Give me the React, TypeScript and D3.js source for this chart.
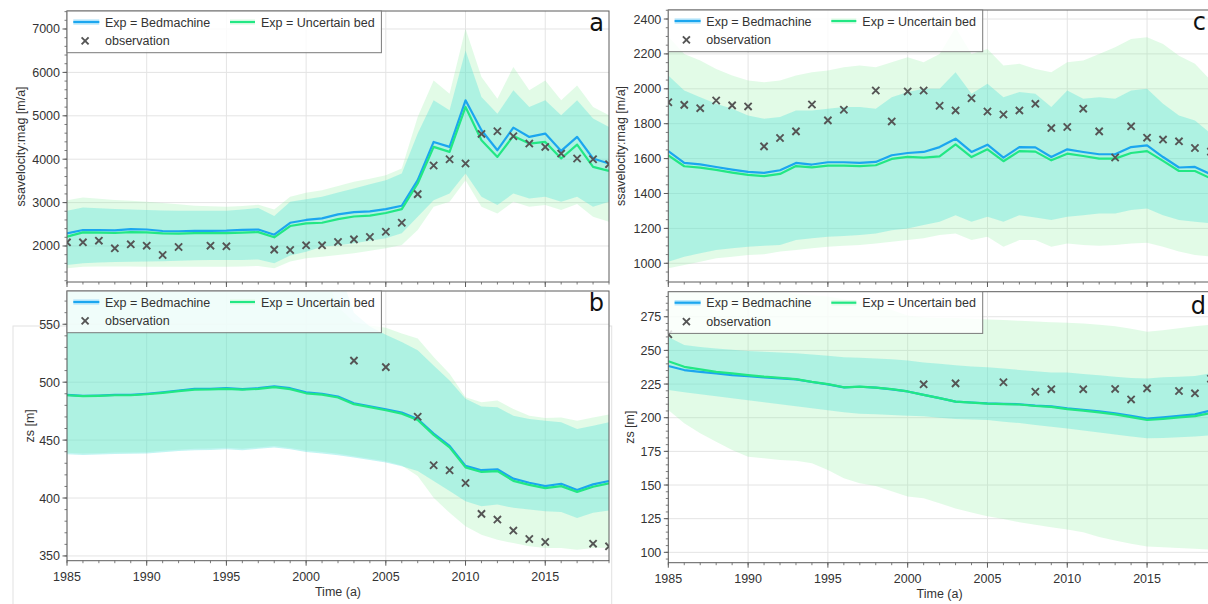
import React from 'react';
import * as d3 from 'd3';

const YEARS = [1985, 1986, 1987, 1988, 1989, 1990, 1991, 1992, 1993, 1994, 1995, 1996, 1997, 1998, 1999, 2000, 2001, 2002, 2003, 2004, 2005, 2006, 2007, 2008, 2009, 2010, 2011, 2012, 2013, 2014, 2015, 2016, 2017, 2018, 2019];
const X_TICKS = [1985, 1990, 1995, 2000, 2005, 2010, 2015];

// ---- panel a : ssavelocity (glacier 1)
const A_BLUE = [2292, 2368, 2368, 2360, 2390, 2380, 2345, 2340, 2350, 2350, 2355, 2370, 2380, 2260, 2535, 2600, 2636, 2729, 2782, 2797, 2850, 2927, 3517, 4398, 4283, 5356, 4667, 4207, 4728, 4513, 4590, 4191, 4513, 4016, 3900];
const A_GREEN = [2214, 2315, 2310, 2300, 2320, 2315, 2290, 2285, 2295, 2295, 2295, 2310, 2320, 2200, 2460, 2520, 2536, 2620, 2680, 2700, 2760, 2850, 3441, 4283, 4168, 5203, 4437, 4053, 4536, 4360, 4398, 4016, 4337, 3823, 3731];
const A_OBS = [2085, 2085, 2123, 1946, 2038, 2008, 1793, 1977, null, 2008, 1992, null, null, 1916, 1908, 2015, 2015, 2092, 2153, 2207, 2329, 2536, 3195, 3855, 4000, 3900, 4582, 4644, 4529, 4360, 4283, 4130, 4016, 4000, 3885];
const A_BLUE_HI = [2811, 2889, 2870, 2850, 2840, 2828, 2820, 2815, 2811, 2811, 2811, 2840, 2873, 2690, 3018, 3080, 3133, 3230, 3326, 3420, 3517, 3670, 4590, 5356, 5126, 6506, 5433, 5050, 5586, 5203, 5356, 5011, 5356, 4935, 4743];
const A_BLUE_LO = [1563, 1600, 1620, 1630, 1635, 1640, 1650, 1660, 1670, 1675, 1678, 1680, 1690, 1602, 1780, 1870, 1985, 2020, 2061, 2120, 2176, 2291, 2674, 3057, 3211, 3670, 3133, 2943, 3211, 3095, 3133, 3018, 3133, 2904, 3018];
const A_GREEN_HI = [3057, 3118, 3090, 3060, 3040, 3018, 2990, 2960, 2930, 2915, 2904, 2920, 2950, 2843, 3133, 3226, 3287, 3380, 3479, 3550, 3632, 3785, 4973, 5816, 5510, 7004, 5893, 5395, 6122, 5586, 5816, 5356, 5701, 5203, 5011];
const A_GREEN_LO = [1487, 1520, 1525, 1525, 1525, 1524, 1524, 1524, 1524, 1524, 1524, 1530, 1540, 1487, 1640, 1716, 1755, 1790, 1832, 1890, 1946, 2023, 2368, 2904, 3018, 3517, 2904, 2751, 3018, 2904, 2943, 2828, 2966, 2674, 2559];
const A_YTICKS = [2000, 3000, 4000, 5000, 6000, 7000];

// ---- panel b : zs (glacier 1)
const B_BLUE = [489, 488.2, 488.5, 489, 489, 490, 491.3, 492.8, 494.2, 494.2, 494.8, 494, 494.8, 496.5, 494.8, 491.3, 490, 487.6, 481.8, 479.2, 476.6, 473.7, 468.2, 455.7, 445, 427.7, 424, 424.8, 416.7, 413.2, 410.3, 412.3, 406.9, 411.8, 414.7];
const B_GREEN = [488.7, 487.9, 488.2, 488.7, 488.7, 489.6, 490.8, 492.3, 493.6, 493.7, 494.2, 493.5, 494.2, 495.8, 494, 490.4, 489.2, 486.8, 481, 478.4, 475.8, 472.8, 467.4, 454.5, 443.8, 426.5, 422.5, 423.2, 414.8, 411.3, 408.6, 410.3, 405.3, 409.7, 412.7];
const B_OBS = [null, null, null, null, null, null, null, null, null, null, null, null, null, null, null, null, null, null, 518.6, null, 513, null, 470.2, 428.3, 424, 413, 386.3, 381.4, 371.9, 364.6, 362, null, null, 360.6, 358.3];
const B_BLUE_HI = [600, 600, 600, 600, 600, 600, 600, 600, 600, 600, 600, 600, 600, 600, 600, 600, 600, 600, 560, 548, 541, 534.7, 527.5, 514.5, 501.5, 485.6, 478.9, 478.3, 471.1, 468.2, 466.7, 465.3, 459.5, 462.4, 465.3];
const B_BLUE_LO = [437.8, 437.2, 437.5, 438, 438.2, 438.4, 439.5, 440.5, 441.3, 441.5, 442.2, 441.3, 442.5, 443.6, 442, 439.8, 438.5, 437, 434.9, 432.8, 430.6, 427.5, 423.4, 414.7, 406, 397.3, 393, 394.4, 391.5, 390, 388.6, 388, 382.8, 387.2, 389.2];
const B_GREEN_HI = [600, 600, 600, 600, 600, 600, 600, 600, 600, 600, 600, 600, 600, 600, 600, 600, 600, 565, 552, 549, 547, 542, 537.7, 521.7, 507.3, 487, 482.6, 484.1, 476.9, 471.1, 469.1, 469.6, 466.7, 469.6, 472];
const B_GREEN_LO = [439, 438.4, 438.7, 439.2, 439.4, 439.6, 440.7, 441.7, 442.5, 442.7, 443.4, 442.5, 443.7, 444.8, 443.2, 441, 439.7, 438.2, 436.1, 434, 431.8, 428, 419, 400.2, 387.2, 375.6, 368.4, 364, 361.1, 358.3, 356.8, 356.8, 355.4, 356.8, 357];
const B_YTICKS = [350, 400, 450, 500, 550];

// ---- panel c : ssavelocity (glacier 2)
const C_BLUE = [1643, 1575, 1567, 1552, 1537, 1524, 1518, 1533, 1575, 1566, 1579, 1579, 1575, 1581, 1619, 1632, 1638, 1666, 1714, 1638, 1680, 1606, 1666, 1664, 1609, 1653, 1638, 1625, 1625, 1666, 1676, 1609, 1549, 1552, 1510];
const C_GREEN = [1619, 1556, 1548, 1535, 1520, 1507, 1500, 1512, 1557, 1550, 1560, 1560, 1557, 1562, 1598, 1610, 1606, 1613, 1682, 1609, 1653, 1585, 1643, 1640, 1590, 1628, 1615, 1600, 1600, 1632, 1643, 1587, 1529, 1529, 1486];
const C_OBS = [1923, 1908, 1889, 1933, 1905, 1899, 1670, 1718, 1756, 1910, 1819, 1880, null, 1990, 1813, 1985, 1990, 1903, 1876, 1946, 1870, 1853, 1876, 1914, 1775, 1781, 1886, 1756, 1606, 1785, 1720, 1709, 1699, 1661, 1640];
const C_BLUE_HI = [2076, 1990, 1952, 1914, 1886, 1847, 1829, 1838, 1876, 1876, 1886, 1895, 1895, 1886, 1952, 1981, 2000, 2000, 2095, 1971, 2029, 1952, 1981, 1971, 1895, 1990, 1943, 1952, 1943, 1990, 2000, 1914, 1847, 1819, 1743];
const C_BLUE_LO = [1009, 1038, 1057, 1076, 1086, 1095, 1100, 1105, 1133, 1143, 1152, 1157, 1162, 1171, 1190, 1200, 1219, 1238, 1276, 1238, 1267, 1238, 1276, 1262, 1248, 1267, 1276, 1286, 1286, 1305, 1314, 1276, 1248, 1238, 1229];
const C_GREEN_HI = [2300, 2200, 2162, 2114, 2076, 2047, 2038, 2047, 2076, 2095, 2105, 2124, 2133, 2124, 2152, 2181, 2152, 2200, 2352, 2200, 2228, 2133, 2143, 2114, 2095, 2152, 2162, 2200, 2238, 2286, 2295, 2257, 2190, 2143, 2047];
const C_GREEN_LO = [971, 990, 1009, 1029, 1038, 1048, 1052, 1067, 1076, 1086, 1095, 1100, 1105, 1114, 1124, 1133, 1143, 1162, 1171, 1133, 1152, 1095, 1133, 1133, 1095, 1114, 1105, 1100, 1105, 1114, 1118, 1095, 1067, 1048, 1038];
const C_YTICKS = [1000, 1200, 1400, 1600, 1800, 2000, 2200, 2400];

// ---- panel d : zs (glacier 2)
const D_BLUE = [238.4, 235.4, 234.1, 232.9, 231.7, 230.9, 230, 229.2, 228.5, 226.5, 224.8, 222.5, 223, 222.3, 221.1, 219.5, 217, 214.5, 212, 211.3, 210.6, 210.3, 210, 209, 208.4, 206.9, 205.8, 204.7, 203.3, 201.3, 199.3, 200.3, 201.3, 202.5, 205.5];
const D_GREEN = [242, 237.8, 235.9, 234.1, 233, 231.7, 230.5, 229.7, 228.7, 226.6, 224.9, 222.6, 223.1, 222.4, 221.2, 219.5, 217, 214.5, 212, 211.2, 210.4, 210.1, 209.8, 208.7, 208, 206.4, 205.2, 204, 202.5, 200.4, 198.3, 199.2, 200.2, 201.2, 203.5];
const D_OBS = [262, null, null, null, null, null, null, null, null, null, null, null, null, null, null, null, 224.8, null, 225.5, null, null, 226.3, null, 219.3, 221.2, null, 221.2, null, 221.4, 213.6, 221.8, null, 219.8, 218.1, 229];
const D_BLUE_HI = [260, 254, 252.5, 251.5, 250.5, 249.5, 249, 248.5, 247.8, 247, 246, 245, 244.5, 244, 243.5, 242.5, 241, 240, 239, 238, 237.4, 236.5, 235.5, 234.5, 233.5, 233.5, 232.5, 231.5, 230.5, 229.5, 229.2, 230, 230.5, 231, 233];
const D_BLUE_LO = [220.5, 219, 217.5, 216, 214.5, 213, 211.5, 210, 208.5, 207, 205.5, 204, 203, 202.5, 202, 201.5, 201, 200, 199, 198.7, 198.3, 197, 196, 194.5, 193.3, 192, 190.5, 189, 187.5, 186, 184.7, 185, 185.5, 186, 187];
const D_GREEN_HI = [300, 299, 298, 297, 296, 295, 294, 293, 292, 291, 290, 288, 286, 284, 280, 276, 274.5, 274, 274, 273.5, 273, 272.5, 272, 271.5, 271, 270.5, 270, 269, 268, 266, 263.8, 265, 266.5, 268, 269];
const D_GREEN_LO = [205.7, 195.8, 188.4, 182.2, 176, 171, 169.9, 168.6, 168.1, 166.2, 161.2, 155, 151.3, 149.2, 145.4, 141.4, 140.2, 136.4, 132.6, 129.5, 126.8, 124.8, 122.3, 120.4, 118.6, 116.9, 114.9, 111.3, 108.7, 106.3, 104.4, 103.8, 103.3, 102.6, 102];
const D_YTICKS = [100, 125, 150, 175, 200, 225, 250, 275];

const LEGEND_LABELS = ['Exp = Bedmachine', 'Exp = Uncertain bed', 'observation'];

const BLUE = '#1ba6ef';
const GREEN = '#22e784';
const GRID = '#e4e4e4';
const SPINE = '#5c5c5c';
const TEXT = '#333';
const MARK = '#555';

type Arr = (number | null)[];
interface PanelProps {
  id: string;
  left: number; top: number; right: number; bottom: number;
  yDomain: [number, number];
  yTicks: number[];
  yMinor: number;
  blue: number[]; green: number[]; obs: Arr;
  blueHi: number[]; blueLo: number[]; greenHi: number[]; greenLo: number[];
  showX: boolean;
  yLabel: string;
  yLabelOffset: number;
  letter: string;
  letterBaseline: number;
}

function Panel(p: PanelProps) {
  const x = d3.scaleLinear().domain([1985, 2019]).range([p.left, p.right]);
  const y = d3.scaleLinear().domain(p.yDomain).range([p.bottom, p.top]);
  const idx = YEARS.map((_, i) => i);
  const area = (lo: number[], hi: number[]) =>
    d3.area<number>().x((i) => x(YEARS[i])).y0((i) => y(lo[i])).y1((i) => y(hi[i]))(idx) || '';
  const line = (v: number[]) => d3.line<number>().x((i) => x(YEARS[i])).y((i) => y(v[i]))(idx) || '';
  const minorY: number[] = [];
  const start = Math.ceil(p.yDomain[0] / p.yMinor) * p.yMinor;
  for (let v = start; v <= p.yDomain[1]; v += p.yMinor) minorY.push(v);
  const minorX = YEARS;
  const w = p.right - p.left;
  const h = p.bottom - p.top;
  const lg = { x: p.left, y: p.top, w: 314.4, h: 41.7 };
  return (
    <g>
      <defs>
        <clipPath id={p.id}>
          <rect x={p.left} y={p.top} width={w} height={h} />
        </clipPath>
      </defs>
      <rect x={p.left} y={p.top} width={w} height={h} fill="#fff" />
      {/* grid */}
      {p.yTicks.map((t) => (
        <line key={'gy' + t} x1={p.left} x2={p.right} y1={y(t)} y2={y(t)} stroke={GRID} strokeWidth={1} />
      ))}
      {X_TICKS.map((t) => (
        <line key={'gx' + t} x1={x(t)} x2={x(t)} y1={p.top} y2={p.bottom} stroke={GRID} strokeWidth={1} />
      ))}
      <g clipPath={`url(#${p.id})`}>
        <path d={area(p.greenLo, p.greenHi)} fill="#8bef9f" fillOpacity={0.25} />
        <path d={area(p.blueLo, p.blueHi)} fill="#53e4dc" fillOpacity={0.36} />
        <path d={line(p.blue)} fill="none" stroke={BLUE} strokeWidth={2.2} strokeLinejoin="round" />
        <path d={line(p.green)} fill="none" stroke={GREEN} strokeWidth={2.2} strokeLinejoin="round" />
        {p.obs.map((v, i) => {
          if (v == null) return null;
          const cx = x(YEARS[i]);
          const cy = y(v);
          const s = 3.6;
          return (
            <path key={'o' + i} d={`M${cx - s},${cy - s}L${cx + s},${cy + s}M${cx - s},${cy + s}L${cx + s},${cy - s}`}
              stroke={MARK} strokeWidth={1.9} fill="none" />
          );
        })}
      </g>
      {/* frame */}
      <rect x={p.left} y={p.top} width={w} height={h} fill="none" stroke={SPINE} strokeWidth={1} />
      {/* y ticks */}
      {minorY.map((t) => (
        <line key={'my' + t} x1={p.left - 2.5} x2={p.left} y1={y(t)} y2={y(t)} stroke={SPINE} strokeWidth={0.8} />
      ))}
      {p.yTicks.map((t) => (
        <g key={'ty' + t}>
          <line x1={p.left - 4.5} x2={p.left} y1={y(t)} y2={y(t)} stroke={SPINE} strokeWidth={1} />
          <text x={p.left - 7} y={y(t)} dy="0.36em" textAnchor="end" fontSize={12.5} fill={TEXT}>{t}</text>
        </g>
      ))}
      {/* x ticks */}
      {minorX.map((t) => (
        <line key={'mx' + t} x1={x(t)} x2={x(t)} y1={p.bottom} y2={p.bottom + 2.5} stroke={SPINE} strokeWidth={0.8} />
      ))}
      {X_TICKS.map((t) => (
        <g key={'tx' + t}>
          <line x1={x(t)} x2={x(t)} y1={p.bottom} y2={p.bottom + 5} stroke={SPINE} strokeWidth={1} />
          {p.showX && (
            <text x={x(t)} y={p.bottom + 20.5} textAnchor="middle" fontSize={12.5} fill={TEXT}>{t}</text>
          )}
        </g>
      ))}
      {p.showX && (
        <text x={(p.left + p.right) / 2} y={p.bottom + 35} textAnchor="middle" fontSize={12.5} fill={TEXT}>Time (a)</text>
      )}
      <text transform={`translate(${p.left + p.yLabelOffset},${(p.top + p.bottom) / 2}) rotate(-90)`}
        dy="0.36em" textAnchor="middle" fontSize={12.5} fill={TEXT}>{p.yLabel}</text>
      {/* legend */}
      <g>
        <rect x={lg.x} y={lg.y} width={lg.w} height={lg.h} fill="#fff" fillOpacity={0.82} stroke="#7a7a7a" strokeWidth={1} />
        <rect x={lg.x + 6.3} y={lg.y + 8.3} width={26} height={5.5} fill="#bfe9fb" />
        <line x1={lg.x + 6.3} x2={lg.x + 32.3} y1={lg.y + 11} y2={lg.y + 11} stroke={BLUE} strokeWidth={2.2} />
        <text x={lg.x + 38} y={lg.y + 11} dy="0.36em" fontSize={12.5} fill={TEXT}>{LEGEND_LABELS[0]}</text>
        <rect x={lg.x + 163} y={lg.y + 8.3} width={25} height={5.5} fill="#e4fbea" />
        <line x1={lg.x + 163} x2={lg.x + 188} y1={lg.y + 11} y2={lg.y + 11} stroke={GREEN} strokeWidth={2.2} />
        <text x={lg.x + 194} y={lg.y + 11} dy="0.36em" fontSize={12.5} fill={TEXT}>{LEGEND_LABELS[1]}</text>
        <path d={`M${lg.x + 14.6},${lg.y + 26.4}L${lg.x + 21.6},${lg.y + 33.4}M${lg.x + 14.6},${lg.y + 33.4}L${lg.x + 21.6},${lg.y + 26.4}`}
          stroke={MARK} strokeWidth={1.9} />
        <text x={lg.x + 38} y={lg.y + 29.9} dy="0.36em" fontSize={12.5} fill={TEXT}>{LEGEND_LABELS[2]}</text>
      </g>
      <text x={p.right - 5} y={p.letterBaseline} textAnchor="end" fontSize={24} fill="#111"
        fontFamily="'DejaVu Sans', sans-serif">{p.letter}</text>
    </g>
  );
}

export default function App() {
  return (
    <svg width={1208} height={604} viewBox="0 0 1208 604"
      style={{ position: 'absolute', left: 0, top: 0, background: '#fff', display: 'block' }}
      fontFamily="'Liberation Sans', Arial, Helvetica, sans-serif">
      <rect x={0} y={0} width={1208} height={604} fill="#fff" />
      <rect x={13} y={326} width={598.7} height={290} fill="none" stroke="#e2e2e2" strokeWidth={1} />
      <Panel id="pa" left={67} top={11} right={609} bottom={282}
        yDomain={[1170.5, 7414.7]} yTicks={A_YTICKS} yMinor={200}
        blue={A_BLUE} green={A_GREEN} obs={A_OBS}
        blueHi={A_BLUE_HI} blueLo={A_BLUE_LO} greenHi={A_GREEN_HI} greenLo={A_GREEN_LO}
        showX={false} yLabel="ssavelocity:mag [m/a]" yLabelOffset={-47} letter="a" letterBaseline={31} />
      <Panel id="pb" left={67} top={291} right={609} bottom={560.7}
        yDomain={[345.9, 578.7]} yTicks={B_YTICKS} yMinor={10}
        blue={B_BLUE} green={B_GREEN} obs={B_OBS}
        blueHi={B_BLUE_HI} blueLo={B_BLUE_LO} greenHi={B_GREEN_HI} greenLo={B_GREEN_LO}
        showX={true} yLabel="zs [m]" yLabelOffset={-38} letter="b" letterBaseline={310.5} />
      <Panel id="pc" left={668.3} top={10} right={1210.9} bottom={282}
        yDomain={[892.8, 2451.6]} yTicks={C_YTICKS} yMinor={50}
        blue={C_BLUE} green={C_GREEN} obs={C_OBS}
        blueHi={C_BLUE_HI} blueLo={C_BLUE_LO} greenHi={C_GREEN_HI} greenLo={C_GREEN_LO}
        showX={false} yLabel="ssavelocity:mag [m/a]" yLabelOffset={-47.6} letter="c" letterBaseline={30} />
      <Panel id="pd" left={668.3} top={291.7} right={1210.9} bottom={562.7}
        yDomain={[92.3, 293.6]} yTicks={D_YTICKS} yMinor={5}
        blue={D_BLUE} green={D_GREEN} obs={D_OBS}
        blueHi={D_BLUE_HI} blueLo={D_BLUE_LO} greenHi={D_GREEN_HI} greenLo={D_GREEN_LO}
        showX={true} yLabel="zs [m]" yLabelOffset={-39.3} letter="d" letterBaseline={314} />
    </svg>
  );
}
